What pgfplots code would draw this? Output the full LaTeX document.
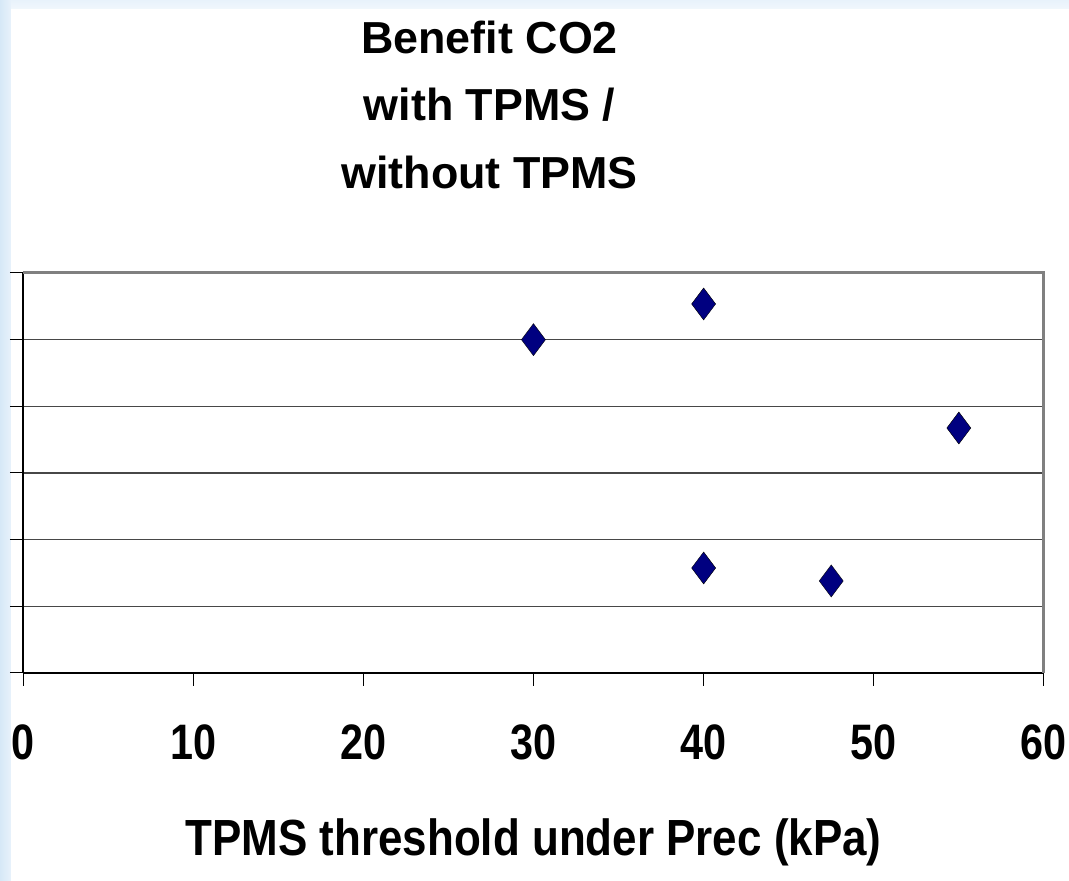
\documentclass[border=0pt]{standalone}
\usepackage{fontspec}
\setmainfont{Liberation Sans}
\newfontfamily\narrowfont[FakeStretch=0.83]{Liberation Sans}
\newfontfamily\labelfont[FakeStretch=0.865]{Liberation Sans}
\usepackage{pgfplots}
\pgfplotsset{compat=1.18}
\definecolor{bgblue}{RGB}{214,232,247}
\definecolor{bgblueL}{RGB}{232,242,251}
\definecolor{marknavy}{RGB}{0,0,128}
\begin{document}
\begin{tikzpicture}[x=1bp,y=1bp]
\useasboundingbox (0,0) rectangle (1069,881);
\fill[bgblueL] (0,0) rectangle (1069,881);
\shade[left color=bgblue, right color=bgblueL] (0,0) rectangle (11,881);
\shade[top color=bgblueL, bottom color=bgblueL!60!white] (11,872) rectangle (1069,881);
\fill[white] (11,0) rectangle (1069,872);
\begin{axis}[
  at={(23bp,208bp)}, anchor=south west,
  scale only axis, width=1021bp, height=400bp,
  xmin=0, xmax=60, ymin=0, ymax=6,
  xtick={0,10,...,60}, ytick={0,1,...,6},
  xticklabels={0,10,20,30,40,50,60},
  yticklabels={},
  axis x line*=bottom, axis y line*=left,
  axis line style={-, black, line width=2bp},
  ymajorgrids,
  grid style={color=black!72, line width=1.3bp},
  tick align=outside, major tick length=13bp,
  tick style={black, line width=1bp},
  xticklabel style={font=\fontsize{50}{60}\selectfont\narrowfont\bfseries, inner sep=0pt, anchor=north, yshift=-39bp},
  xlabel={TPMS threshold under Prec (kPa)},
  xlabel style={font=\fontsize{51}{60}\selectfont\labelfont\bfseries, at={(axis description cs:0.5,0)}, anchor=north, inner sep=0pt, yshift=-145bp},
  title={Benefit CO2\\with TPMS /\\without TPMS},
  title style={font=\fontsize{45}{67.5}\selectfont\bfseries, align=center, at={(axis description cs:0.457,1)}, anchor=north, inner sep=0pt, yshift=246bp},
  clip=false,
]
\draw[black!50, line width=3bp] (rel axis cs:0,1) -- (rel axis cs:1,1) -- (rel axis cs:1,0);
\addplot[only marks, mark=diamond*, mark size=16bp, mark options={fill=marknavy, draw=none}]
  coordinates {(30,5.0) (40,5.535) (55,3.675) (40,1.575) (47.5,1.38)};
\end{axis}
\end{tikzpicture}
\end{document}
